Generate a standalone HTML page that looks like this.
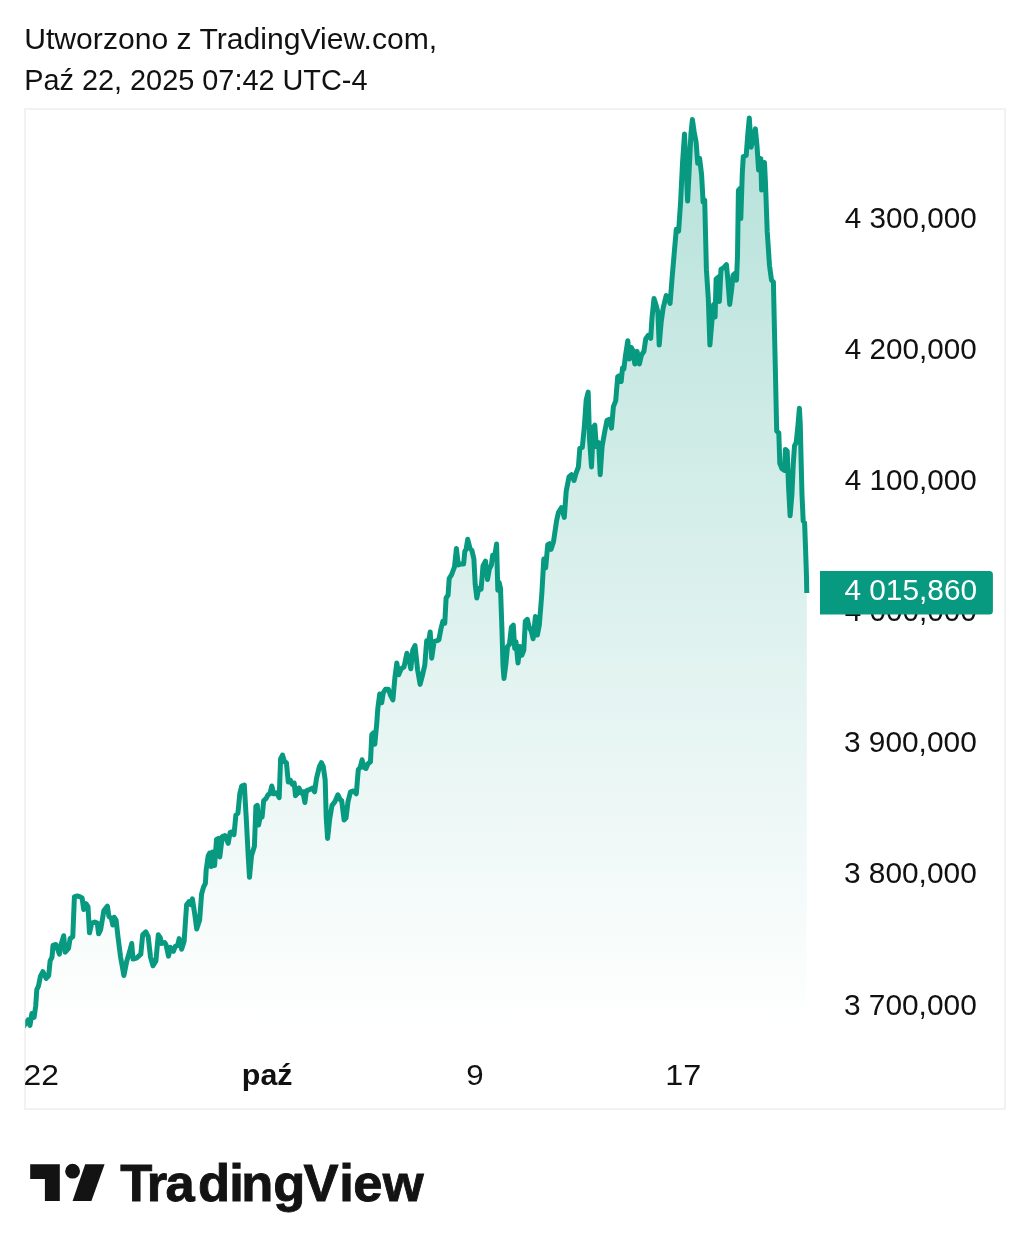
<!DOCTYPE html>
<html lang="pl"><head><meta charset="utf-8"><title>TradingView</title>
<style>
html,body{margin:0;padding:0;background:#fff;}
body{width:1030px;height:1259px;overflow:hidden;position:relative;font-family:"Liberation Sans",sans-serif;}
svg{position:absolute;left:0;top:0;display:block}
text{font-family:"Liberation Sans",sans-serif;fill:#111}
.hd{font-size:30px}
.ax{font-size:30px}
.axb{font-size:30px;font-weight:bold}
.pl{font-size:29px;fill:#fff}
.wm{font-size:52.5px;font-weight:bold;fill:#131313;stroke:#131313;stroke-width:0.9px;stroke-linejoin:miter}
</style></head><body>
<svg width="1030" height="1259" viewBox="0 0 1030 1259">
<defs>
<linearGradient id="g" x1="0" y1="110" x2="0" y2="1030" gradientUnits="userSpaceOnUse">
<stop offset="0" stop-color="#089981" stop-opacity="0.30"/>
<stop offset="1" stop-color="#089981" stop-opacity="0"/>
</linearGradient>
<clipPath id="cl"><rect x="25.2" y="100" width="900" height="960"/></clipPath>
</defs>
<rect x="25" y="109" width="980" height="1000" fill="none" stroke="#f2f2f2" stroke-width="2"/>
<text id="hd1" x="24.23" y="48.60" class="hd" textLength="412.98" lengthAdjust="spacingAndGlyphs">Utworzono z TradingView.com,</text>
<text id="hd2" x="24.16" y="89.80" class="hd" textLength="343.35" lengthAdjust="spacingAndGlyphs">Paź 22, 2025 07:42 UTC-4</text>
<path d="M22.5,1028 L28.1,1019.8 L30,1025.4 L31.9,1013.5 L34.1,1017.3 L35.7,1006 L36.8,989.6 L38.4,986.2 L40.4,976.5 L42.9,971.7 L46.2,978.4 L48.7,975.5 L50.1,961 L52,957.1 L53,945.4 L55.9,944.5 L59.4,954.2 L60.8,945.4 L63.7,935.7 L65.2,952.2 L68.5,948.3 L70.1,938.6 L72.8,936.7 L74.4,896.9 L77.3,895.9 L80.2,896.9 L82.1,897.9 L83.7,909.5 L86,903.7 L88,906.6 L89.5,932.8 L91.8,923.1 L94.8,922.1 L97.3,923.1 L98.6,933.8 L100.6,929.9 L103.9,910.5 L107.4,906.2 L108.9,916.3 L111.3,918.3 L112.8,925 L114.2,917.3 L116.1,920.2 L118.1,937.7 L120.6,957.1 L123.9,975.5 L126.8,961 L129.7,951.3 L131.7,943.5 L133,959 L136.5,958.1 L140.8,954.2 L142.7,934.8 L145.8,931.8 L148.2,936.7 L150.5,957.1 L153,965.8 L155.9,961 L158.3,934.8 L160.2,937.7 L161.7,943.5 L164.7,942.5 L166,944.5 L168.5,956.1 L170.5,947.4 L173.4,951.3 L175.3,946.4 L177.7,945.4 L179.2,938.6 L181.6,949.3 L184.1,941.6 L186.6,904.7 L188.9,901.7 L190.9,904.7 L192.4,898.8 L194.8,914.4 L196.7,928.9 L199.6,920.2 L201.6,894 L203.5,887.2 L205.4,883.3 L206.2,869.5 L208.2,855.9 L209.7,853 L211.3,866.6 L212.6,852 L214.6,865.6 L216.5,839.4 L218.4,838.4 L219.8,856.9 L222.3,836.5 L224.9,835.5 L228.2,843.3 L230.1,832.6 L232,831.7 L234,834.6 L235.9,815.1 L237.9,813.2 L239.8,793.8 L241.7,786 L244.3,785 L246.2,817.1 L248.2,855.9 L249.5,877.3 L251.5,855.9 L254.4,846.2 L255.9,806.4 L257.3,805.4 L258.6,824.9 L260.6,815.1 L262.1,817.1 L263.7,800.6 L266,798.6 L268,794.8 L269.9,793.8 L271.8,786 L273.8,793.8 L276.7,792.8 L279.2,797.7 L280.6,758.8 L282.5,755 L284.5,761.7 L286.4,762.7 L288.3,782.1 L290.3,780.2 L292.2,784.1 L294.2,783.1 L295.5,795.7 L297.1,793.8 L299,788 L301,792.8 L302.9,791.8 L304.9,802.5 L306.4,790.9 L308.7,789.9 L310.7,788.9 L312.6,788 L314.6,791.8 L316.5,778.3 L319.4,766.6 L321.4,762.7 L323.3,766.6 L325.2,780.2 L326.2,817.1 L327.6,838.4 L329.7,819 L332,805.4 L335,801.6 L337.9,794.8 L340.2,799.6 L341.7,800.6 L344.1,820 L346,818.1 L348,801.6 L350.5,791.8 L353.4,790.9 L356.3,793.8 L358.3,769.5 L360.2,767.6 L362.1,759.8 L364.1,767.6 L366,768.5 L368,763.7 L370.5,761.7 L371.8,734.6 L373.8,732.6 L374.8,744.3 L376.7,723.9 L377.8,708.6 L379.7,694.1 L381.7,702.8 L383.2,693.1 L385.5,689.2 L388.4,689.2 L390.4,695 L392.9,699.9 L394.9,677.6 L396.8,663 L398.7,674.7 L401.1,668.8 L404,666.9 L406.9,653.3 L408.8,658.2 L410.8,668.8 L412.7,650.4 L415,645.5 L417.6,669.8 L420.1,684.4 L422.4,675.6 L424.8,665 L426.7,640.7 L428.3,643.6 L430.2,631.9 L431.7,658.2 L434.1,641.7 L437,640.7 L438.9,639.7 L440.9,629 L442.8,621.3 L444.8,623.2 L446.1,598 L448.1,595 L449.2,578.5 L451.6,574.7 L454.5,566.9 L456.4,548.4 L458.3,565 L461.3,564 L463.6,564 L464.8,551.4 L466.1,549.4 L467.7,539.3 L470,548.4 L471.9,550.4 L473.9,559.1 L475.2,584.4 L476.8,598 L478.7,588.3 L481.1,589.2 L483,565.9 L485.5,561.1 L487.5,579.5 L489.4,568.8 L491.4,565 L492.7,555.2 L494.3,559.1 L496.6,544 L497.8,590.2 L499.1,582.4 L500.5,588.3 L502,631 L503,665.9 L504,678.5 L505.9,664 L507.5,646.5 L509.4,644.6 L511.4,627.1 L513.3,625.1 L514.7,648.4 L516,641.7 L518,663 L519.9,646.5 L521.8,655.2 L523.8,650.4 L525.3,621.3 L527.3,619.3 L529.2,627.1 L531.2,631 L533.1,638.7 L535.4,616.4 L537.4,634.9 L539.3,625.1 L541.8,594.1 L543.8,559.1 L545.7,567.9 L547.7,544.6 L549.6,543.6 L551,549.4 L553.5,541.7 L556.5,521.3 L558.4,512.5 L561.4,507.7 L564.3,517.4 L566.2,491.2 L569.1,476.6 L571.5,474.7 L574,480.5 L575.9,473.7 L578.4,466.9 L579.8,448.4 L582.3,447.5 L584.3,427.1 L586.2,399.9 L588.2,392.1 L589.5,438.7 L591.5,466.9 L593.4,427.1 L594.8,425.1 L596.3,446.5 L598.6,442.6 L600.2,474.7 L602.1,446.5 L604.5,432.9 L607,420.3 L609.5,419.3 L611.5,428.1 L613.4,406.7 L615.7,400.9 L617.7,376.6 L619.6,375.6 L621.2,381.5 L622.5,367.9 L623.9,368.8 L625.4,356.2 L627.8,340.7 L629.3,359.1 L631.3,347.5 L632.8,350.4 L634.8,364 L637.1,351.4 L639.4,364 L641.4,355.2 L643.9,351.4 L645.8,338.7 L648.2,335.4 L650.7,338.3 L652,318 L654,298.5 L655.9,304.4 L657.9,312.1 L659.2,345.1 L661.2,321.8 L663.1,308.3 L666.2,295.6 L668.5,298.5 L670.1,303.4 L672,279.1 L674,255.8 L676.3,229.3 L678.6,231.2 L680.6,202.1 L682.5,163.3 L684.5,134.1 L686,163.3 L687.6,201.1 L689.5,163.3 L690.9,134.1 L692.4,119.6 L694.2,132.2 L696.1,141.9 L697.7,163.3 L699.6,158.4 L701.6,174.9 L703.1,202.1 L704.7,200.1 L705.6,237 L706.4,269.4 L708.3,298.5 L709.9,345.1 L712.2,318 L713.6,304.4 L715.1,317 L716.1,279.1 L718.1,277.2 L719.4,301.5 L721,269.4 L723.9,267.5 L726.4,264.6 L727.8,279.1 L729.7,304.4 L731.7,288.8 L733,275.2 L735,273.3 L736.5,280.1 L737.5,255.8 L738.4,190.4 L740,188.5 L740.8,218.6 L742.3,173 L743.3,156.5 L746.2,155.5 L747.8,134.1 L749.3,117.9 L751.1,147.2 L755.4,128.9 L757,145.8 L758.6,170.1 L760.8,158.6 L761.6,190.1 L764.5,162.6 L765.4,181.5 L766.1,200 L767.2,231.2 L769.5,265.5 L771.5,280.1 L773.4,282 L774.4,327.7 L775.3,366.5 L776.7,431 L778.8,432.8 L779.8,463.4 L781.9,468.6 L784.5,470.3 L785.4,449.4 L787.2,451.1 L788.6,487.8 L790.1,515.8 L791.9,494.8 L793.3,463.4 L794.5,445.9 L796.2,442.4 L798,424.9 L799.4,408.3 L800.3,424.9 L801.1,459.9 L802,494.8 L803.2,521 L804.6,522.8 L805.5,547.2 L806.4,573.4 L806.8,593 L806.8,1042 L22.5,1042 Z" fill="url(#g)" clip-path="url(#cl)"/>
<path d="M22.5,1028 L28.1,1019.8 L30,1025.4 L31.9,1013.5 L34.1,1017.3 L35.7,1006 L36.8,989.6 L38.4,986.2 L40.4,976.5 L42.9,971.7 L46.2,978.4 L48.7,975.5 L50.1,961 L52,957.1 L53,945.4 L55.9,944.5 L59.4,954.2 L60.8,945.4 L63.7,935.7 L65.2,952.2 L68.5,948.3 L70.1,938.6 L72.8,936.7 L74.4,896.9 L77.3,895.9 L80.2,896.9 L82.1,897.9 L83.7,909.5 L86,903.7 L88,906.6 L89.5,932.8 L91.8,923.1 L94.8,922.1 L97.3,923.1 L98.6,933.8 L100.6,929.9 L103.9,910.5 L107.4,906.2 L108.9,916.3 L111.3,918.3 L112.8,925 L114.2,917.3 L116.1,920.2 L118.1,937.7 L120.6,957.1 L123.9,975.5 L126.8,961 L129.7,951.3 L131.7,943.5 L133,959 L136.5,958.1 L140.8,954.2 L142.7,934.8 L145.8,931.8 L148.2,936.7 L150.5,957.1 L153,965.8 L155.9,961 L158.3,934.8 L160.2,937.7 L161.7,943.5 L164.7,942.5 L166,944.5 L168.5,956.1 L170.5,947.4 L173.4,951.3 L175.3,946.4 L177.7,945.4 L179.2,938.6 L181.6,949.3 L184.1,941.6 L186.6,904.7 L188.9,901.7 L190.9,904.7 L192.4,898.8 L194.8,914.4 L196.7,928.9 L199.6,920.2 L201.6,894 L203.5,887.2 L205.4,883.3 L206.2,869.5 L208.2,855.9 L209.7,853 L211.3,866.6 L212.6,852 L214.6,865.6 L216.5,839.4 L218.4,838.4 L219.8,856.9 L222.3,836.5 L224.9,835.5 L228.2,843.3 L230.1,832.6 L232,831.7 L234,834.6 L235.9,815.1 L237.9,813.2 L239.8,793.8 L241.7,786 L244.3,785 L246.2,817.1 L248.2,855.9 L249.5,877.3 L251.5,855.9 L254.4,846.2 L255.9,806.4 L257.3,805.4 L258.6,824.9 L260.6,815.1 L262.1,817.1 L263.7,800.6 L266,798.6 L268,794.8 L269.9,793.8 L271.8,786 L273.8,793.8 L276.7,792.8 L279.2,797.7 L280.6,758.8 L282.5,755 L284.5,761.7 L286.4,762.7 L288.3,782.1 L290.3,780.2 L292.2,784.1 L294.2,783.1 L295.5,795.7 L297.1,793.8 L299,788 L301,792.8 L302.9,791.8 L304.9,802.5 L306.4,790.9 L308.7,789.9 L310.7,788.9 L312.6,788 L314.6,791.8 L316.5,778.3 L319.4,766.6 L321.4,762.7 L323.3,766.6 L325.2,780.2 L326.2,817.1 L327.6,838.4 L329.7,819 L332,805.4 L335,801.6 L337.9,794.8 L340.2,799.6 L341.7,800.6 L344.1,820 L346,818.1 L348,801.6 L350.5,791.8 L353.4,790.9 L356.3,793.8 L358.3,769.5 L360.2,767.6 L362.1,759.8 L364.1,767.6 L366,768.5 L368,763.7 L370.5,761.7 L371.8,734.6 L373.8,732.6 L374.8,744.3 L376.7,723.9 L377.8,708.6 L379.7,694.1 L381.7,702.8 L383.2,693.1 L385.5,689.2 L388.4,689.2 L390.4,695 L392.9,699.9 L394.9,677.6 L396.8,663 L398.7,674.7 L401.1,668.8 L404,666.9 L406.9,653.3 L408.8,658.2 L410.8,668.8 L412.7,650.4 L415,645.5 L417.6,669.8 L420.1,684.4 L422.4,675.6 L424.8,665 L426.7,640.7 L428.3,643.6 L430.2,631.9 L431.7,658.2 L434.1,641.7 L437,640.7 L438.9,639.7 L440.9,629 L442.8,621.3 L444.8,623.2 L446.1,598 L448.1,595 L449.2,578.5 L451.6,574.7 L454.5,566.9 L456.4,548.4 L458.3,565 L461.3,564 L463.6,564 L464.8,551.4 L466.1,549.4 L467.7,539.3 L470,548.4 L471.9,550.4 L473.9,559.1 L475.2,584.4 L476.8,598 L478.7,588.3 L481.1,589.2 L483,565.9 L485.5,561.1 L487.5,579.5 L489.4,568.8 L491.4,565 L492.7,555.2 L494.3,559.1 L496.6,544 L497.8,590.2 L499.1,582.4 L500.5,588.3 L502,631 L503,665.9 L504,678.5 L505.9,664 L507.5,646.5 L509.4,644.6 L511.4,627.1 L513.3,625.1 L514.7,648.4 L516,641.7 L518,663 L519.9,646.5 L521.8,655.2 L523.8,650.4 L525.3,621.3 L527.3,619.3 L529.2,627.1 L531.2,631 L533.1,638.7 L535.4,616.4 L537.4,634.9 L539.3,625.1 L541.8,594.1 L543.8,559.1 L545.7,567.9 L547.7,544.6 L549.6,543.6 L551,549.4 L553.5,541.7 L556.5,521.3 L558.4,512.5 L561.4,507.7 L564.3,517.4 L566.2,491.2 L569.1,476.6 L571.5,474.7 L574,480.5 L575.9,473.7 L578.4,466.9 L579.8,448.4 L582.3,447.5 L584.3,427.1 L586.2,399.9 L588.2,392.1 L589.5,438.7 L591.5,466.9 L593.4,427.1 L594.8,425.1 L596.3,446.5 L598.6,442.6 L600.2,474.7 L602.1,446.5 L604.5,432.9 L607,420.3 L609.5,419.3 L611.5,428.1 L613.4,406.7 L615.7,400.9 L617.7,376.6 L619.6,375.6 L621.2,381.5 L622.5,367.9 L623.9,368.8 L625.4,356.2 L627.8,340.7 L629.3,359.1 L631.3,347.5 L632.8,350.4 L634.8,364 L637.1,351.4 L639.4,364 L641.4,355.2 L643.9,351.4 L645.8,338.7 L648.2,335.4 L650.7,338.3 L652,318 L654,298.5 L655.9,304.4 L657.9,312.1 L659.2,345.1 L661.2,321.8 L663.1,308.3 L666.2,295.6 L668.5,298.5 L670.1,303.4 L672,279.1 L674,255.8 L676.3,229.3 L678.6,231.2 L680.6,202.1 L682.5,163.3 L684.5,134.1 L686,163.3 L687.6,201.1 L689.5,163.3 L690.9,134.1 L692.4,119.6 L694.2,132.2 L696.1,141.9 L697.7,163.3 L699.6,158.4 L701.6,174.9 L703.1,202.1 L704.7,200.1 L705.6,237 L706.4,269.4 L708.3,298.5 L709.9,345.1 L712.2,318 L713.6,304.4 L715.1,317 L716.1,279.1 L718.1,277.2 L719.4,301.5 L721,269.4 L723.9,267.5 L726.4,264.6 L727.8,279.1 L729.7,304.4 L731.7,288.8 L733,275.2 L735,273.3 L736.5,280.1 L737.5,255.8 L738.4,190.4 L740,188.5 L740.8,218.6 L742.3,173 L743.3,156.5 L746.2,155.5 L747.8,134.1 L749.3,117.9 L751.1,147.2 L755.4,128.9 L757,145.8 L758.6,170.1 L760.8,158.6 L761.6,190.1 L764.5,162.6 L765.4,181.5 L766.1,200 L767.2,231.2 L769.5,265.5 L771.5,280.1 L773.4,282 L774.4,327.7 L775.3,366.5 L776.7,431 L778.8,432.8 L779.8,463.4 L781.9,468.6 L784.5,470.3 L785.4,449.4 L787.2,451.1 L788.6,487.8 L790.1,515.8 L791.9,494.8 L793.3,463.4 L794.5,445.9 L796.2,442.4 L798,424.9 L799.4,408.3 L800.3,424.9 L801.1,459.9 L802,494.8 L803.2,521 L804.6,522.8 L805.5,547.2 L806.4,573.4 L806.8,593" fill="none" stroke="#089981" stroke-width="5" stroke-linejoin="round" stroke-linecap="butt" clip-path="url(#cl)"/>
<text id="y0" x="844.82" y="228.10" class="ax" textLength="131.89" lengthAdjust="spacingAndGlyphs">4 300,000</text>
<text id="y1" x="844.82" y="359.17" class="ax" textLength="131.89" lengthAdjust="spacingAndGlyphs">4 200,000</text>
<text id="y2" x="844.82" y="490.24" class="ax" textLength="131.89" lengthAdjust="spacingAndGlyphs">4 100,000</text>
<text id="y3" x="844.82" y="621.31" class="ax" textLength="131.89" lengthAdjust="spacingAndGlyphs">4 000,000</text>
<text id="y4" x="843.88" y="752.38" class="ax" textLength="132.87" lengthAdjust="spacingAndGlyphs">3 900,000</text>
<text id="y5" x="843.88" y="883.45" class="ax" textLength="132.87" lengthAdjust="spacingAndGlyphs">3 800,000</text>
<text id="y6" x="843.88" y="1014.52" class="ax" textLength="132.87" lengthAdjust="spacingAndGlyphs">3 700,000</text>
<path d="M820,571.1 H989.4 a3.5,3.5 0 0 1 3.5,3.5 V611.1 a3.5,3.5 0 0 1 -3.5,3.5 H820 Z" fill="#089981"/>
<text id="pl" x="844.43" y="600.40" class="pl" textLength="132.66" lengthAdjust="spacingAndGlyphs">4 015,860</text>
<text id="x1" x="23.60" y="1084.70" class="ax" textLength="35.32" lengthAdjust="spacingAndGlyphs">22</text>
<text id="x2" x="241.89" y="1084.70" class="axb" textLength="50.70" lengthAdjust="spacingAndGlyphs">paź</text>
<text id="x3" x="466.26" y="1084.70" class="ax" textLength="17.41" lengthAdjust="spacingAndGlyphs">9</text>
<text id="x4" x="665.27" y="1084.70" class="ax" textLength="36.00" lengthAdjust="spacingAndGlyphs">17</text>
<g fill="#131313">
<path d="M30.2,1164.3 H59.8 V1201 H44.9 V1179 H30.2 Z"/>
<circle cx="72.6" cy="1171.2" r="7.4"/>
<path d="M85.2,1164.3 H104.6 L91.4,1201 H72.6 Z"/>
</g>
<text id="wm" x="120.25 146.85 165.5 197.95 229.15 241.25 273.2 303.6 339.25 353.2 382.65" y="1201.2" class="wm">TradingView</text>
</svg>
</body></html>
